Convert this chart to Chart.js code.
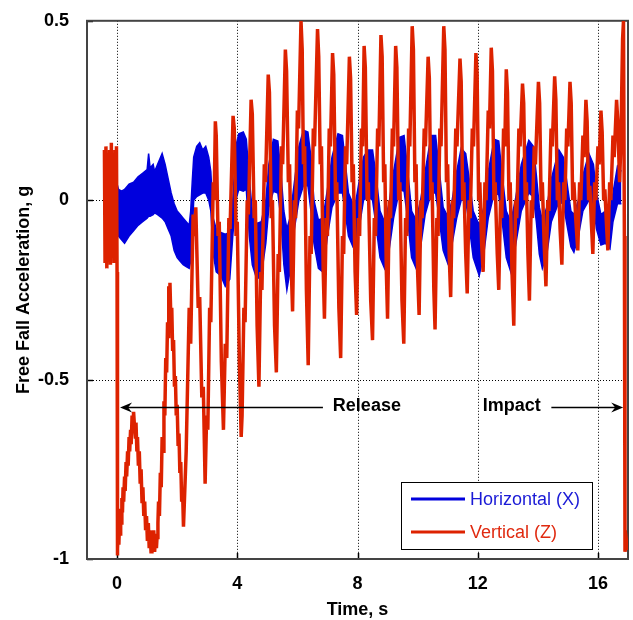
<!DOCTYPE html>
<html>
<head>
<meta charset="utf-8">
<script src="https://cdn.jsdelivr.net/npm/chart.js@4.4.1/dist/chart.umd.min.js"></script>
<style>
  html, body { margin: 0; padding: 0; background: #fff; }
</style>
</head>
<body>
<canvas id="fallChart" width="633" height="620"></canvas>
<script>
// Vertical (Z) trace: time in s, acceleration in g
const redTime = [
  -0.42, -0.40, -0.37, -0.34, -0.31, -0.28, -0.25, -0.22, -0.19, -0.16, -0.13, -0.10, -0.07, -0.04, -0.02, 0.00, 0.01,
  0.02, 0.04, 0.06, 0.08, 0.10, 0.12, 0.14, 0.16, 0.18, 0.20, 0.22, 0.25, 0.27, 0.30, 0.32, 0.35, 0.37, 0.40, 0.42, 0.45, 0.47, 0.50, 0.53, 0.55, 0.58,
  0.61, 0.63, 0.66, 0.68, 0.71, 0.74, 0.77, 0.80, 0.83, 0.86, 0.89, 0.92, 0.95, 0.98, 1.01, 1.04, 1.07, 1.10, 1.13, 1.16, 1.19, 1.22, 1.25, 1.28, 1.31, 1.33,
  1.36, 1.38, 1.41, 1.44, 1.47, 1.50, 1.53, 1.56, 1.59, 1.62, 1.65, 1.68, 1.70, 1.72, 1.74, 1.76,
  1.79, 1.82, 1.85, 1.88, 1.91, 1.94, 1.97, 2.00, 2.03, 2.06, 2.09, 2.12, 2.15, 2.18, 2.21,
  2.30, 2.40, 2.45, 2.53, 2.58, 2.62,
  2.70, 2.75, 2.82, 2.87, 2.93,
  2.98, 3.02, 3.08, 3.12, 3.20, 3.23, 3.27, 3.30,
  3.36, 3.40, 3.47, 3.54,
  3.60, 3.65, 3.72, 3.76, 3.86, 3.90,
  3.96, 4.00, 4.07, 4.13, 4.16,
  4.22, 4.26, 4.33, 4.37, 4.46, 4.50, 4.56, 4.60, 4.66, 4.72,
  4.78, 4.82, 4.90, 4.94, 5.03, 5.07, 5.13, 5.17, 5.24, 5.30,
  5.36, 5.40, 5.47, 5.51, 5.60, 5.64, 5.70, 5.74, 5.80, 5.84,
  5.90, 5.94, 6.00, 6.04, 6.12, 6.16, 6.20, 6.24, 6.30, 6.36,
  6.42, 6.46, 6.53, 6.57, 6.67, 6.71, 6.76, 6.80, 6.86, 6.90,
  6.96, 7.00, 7.06, 7.10, 7.17, 7.21, 7.27, 7.31, 7.38, 7.44,
  7.50, 7.54, 7.60, 7.64, 7.73, 7.77, 7.82, 7.86, 7.92, 7.97,
  8.03, 8.07, 8.13, 8.17, 8.22, 8.26, 8.32, 8.36, 8.44, 8.50,
  8.56, 8.60, 8.67, 8.71, 8.78, 8.82, 8.87, 8.91, 8.96, 9.00,
  9.06, 9.10, 9.16, 9.20, 9.27, 9.31, 9.37, 9.41, 9.48, 9.54,
  9.60, 9.64, 9.70, 9.74, 9.82, 9.86, 9.91, 9.95, 10.00, 10.05,
  10.11, 10.15, 10.22, 10.26, 10.35, 10.39, 10.44, 10.48, 10.54, 10.58,
  10.64, 10.68, 10.74, 10.78, 10.87, 10.91, 10.96, 11.00, 11.05, 11.10,
  11.16, 11.20, 11.27, 11.31, 11.41, 11.45, 11.50, 11.54, 11.60, 11.65,
  11.71, 11.75, 11.82, 11.86, 11.94, 11.98, 12.03, 12.07, 12.13, 12.18,
  12.24, 12.28, 12.35, 12.39, 12.45, 12.49, 12.54, 12.58, 12.65, 12.70,
  12.76, 12.80, 12.86, 12.90, 12.95, 12.99, 13.04, 13.08, 13.14, 13.20,
  13.26, 13.30, 13.37, 13.41, 13.49, 13.53, 13.58, 13.62, 13.67, 13.72,
  13.78, 13.82, 13.88, 13.92, 14.02, 14.06, 14.11, 14.15, 14.21, 14.27,
  14.33, 14.37, 14.44, 14.48, 14.56, 14.60, 14.65, 14.69, 14.74, 14.80,
  14.86, 14.90, 14.96, 15.00, 15.07, 15.11, 15.16, 15.20, 15.26, 15.33,
  15.39, 15.43, 15.50, 15.54, 15.60, 15.64, 15.69, 15.73, 15.78, 15.83,
  15.89, 15.93, 16.00, 16.04, 16.10, 16.14, 16.19, 16.23, 16.28, 16.33,
  16.39, 16.43, 16.50, 16.54, 16.62, 16.66, 16.72, 16.76, 16.82, 16.85,
  16.88, 16.90, 16.95, 16.98, 17.00
]
const redAccel = [
  0.14, -0.17, 0.15, -0.19, 0.12, -0.16, 0.14, -0.18, 0.16, -0.15, 0.13, -0.17, 0.14, -0.16, 0.15, -0.20, -0.99,
  -0.97, -0.93, -0.96, -0.90, -0.93, -0.86, -0.90, -0.83, -0.87, -0.80, -0.84, -0.77, -0.81, -0.73, -0.77, -0.70, -0.74, -0.66, -0.70, -0.64, -0.68, -0.60, -0.64, -0.59, -0.63,
  -0.66, -0.62, -0.70, -0.66, -0.74, -0.70, -0.79, -0.75, -0.84, -0.80, -0.88, -0.84, -0.92, -0.88, -0.95, -0.90, -0.97, -0.92, -0.98, -0.93, -0.97, -0.92, -0.98, -0.93, -0.97, -0.94,
  -0.90, -0.84, -0.88, -0.76, -0.80, -0.66, -0.70, -0.56, -0.60, -0.44, -0.48, -0.34, -0.38, -0.24, -0.27, -0.23,
  -0.33, -0.30, -0.42, -0.39, -0.52, -0.49, -0.60, -0.57, -0.68, -0.65, -0.76, -0.73, -0.84, -0.81, -0.91,
  -0.70, -0.30, -0.40, -0.04, -0.10, -0.02,
  -0.30, -0.27, -0.55, -0.52, -0.79,
  -0.60, -0.64, -0.30, -0.34, 0.05, 0.00, 0.22, 0.18,
  -0.10, -0.06, -0.45, -0.64,
  -0.40, -0.44, -0.05, -0.08, 0.235, 0.20,
  -0.10, -0.06, -0.45, -0.66, -0.60,
  -0.30, -0.34, 0.00, -0.04, 0.28, 0.24, -0.05, 0.00, -0.35, -0.52,
  -0.20, -0.25, 0.10, 0.05, 0.35, 0.30, -0.05, 0.00, -0.35, -0.48,
  -0.15, -0.20, 0.15, 0.10, 0.42, 0.36, 0.05, 0.10, -0.20, -0.31,
  0.00, -0.05, 0.25, 0.20, 0.50, 0.42, 0.10, 0.15, -0.25, -0.46,
  -0.10, -0.15, 0.20, 0.15, 0.477, 0.40, 0.10, 0.15, -0.20, -0.33,
  -0.05, -0.10, 0.20, 0.15, 0.41, 0.35, 0.00, 0.05, -0.30, -0.44,
  -0.10, -0.15, 0.15, 0.10, 0.40, 0.34, 0.05, 0.10, -0.20, -0.32,
  -0.05, -0.10, 0.20, 0.15, 0.43, 0.37, 0.00, 0.05, -0.28, -0.39,
  -0.05, -0.10, 0.20, 0.15, 0.46, 0.40, 0.05, 0.10, -0.20, -0.33,
  0.00, -0.05, 0.20, 0.15, 0.43, 0.37, 0.00, 0.05, -0.28, -0.40,
  -0.05, -0.10, 0.20, 0.15, 0.485, 0.42, 0.05, 0.10, -0.20, -0.32,
  0.00, -0.05, 0.20, 0.15, 0.40, 0.34, 0.00, 0.05, -0.25, -0.36,
  -0.05, -0.10, 0.20, 0.15, 0.485, 0.42, 0.05, 0.10, -0.15, -0.27,
  0.00, -0.05, 0.20, 0.15, 0.395, 0.33, 0.00, 0.05, -0.15, -0.26,
  0.00, -0.05, 0.20, 0.15, 0.41, 0.35, 0.00, 0.05, -0.12, -0.20,
  0.05, 0.00, 0.25, 0.20, 0.425, 0.36, 0.00, 0.05, -0.15, -0.25,
  0.00, -0.05, 0.20, 0.15, 0.365, 0.30, 0.00, 0.05, -0.20, -0.35,
  0.00, -0.05, 0.20, 0.15, 0.325, 0.27, 0.00, 0.05, -0.15, -0.28,
  0.00, -0.05, 0.15, 0.10, 0.33, 0.27, 0.00, 0.05, -0.12, -0.24,
  0.00, -0.03, 0.20, 0.15, 0.345, 0.28, 0.00, 0.05, -0.08, -0.18,
  0.05, 0.00, 0.20, 0.15, 0.33, 0.27, 0.00, 0.05, -0.05, -0.14,
  0.05, 0.00, 0.18, 0.12, 0.28, 0.22, 0.00, 0.04, -0.06, -0.15,
  0.05, 0.00, 0.15, 0.10, 0.25, 0.19, 0.00, 0.03, -0.06, -0.14,
  0.05, 0.00, 0.18, 0.12, 0.28, 0.22, 0.05, 0.15, 0.45, 0.50,
  -0.10, -0.98, -0.95, -0.97, -0.97
]

// Horizontal (X) trace: read as the upper and lower edge of its noise band
const blueTime = [
  0.00, 0.05, 0.15, 0.25, 0.40, 0.55, 0.70, 0.85, 1.00, 1.05,
  1.10, 1.20, 1.25, 1.35, 1.50, 1.60, 1.70, 1.80, 1.90, 2.00,
  2.10, 2.20, 2.30, 2.40, 2.45, 2.50, 2.55, 2.65, 2.75, 2.85,
  2.95, 3.05, 3.12, 3.20, 3.30, 3.45, 3.60, 3.75, 3.85, 3.95,
  4.05, 4.20, 4.30, 4.40, 4.50, 4.65, 4.80, 4.95, 5.05, 5.20,
  5.35, 5.45, 5.55, 5.65, 5.75, 5.90, 6.05, 6.20, 6.35, 6.45,
  6.55, 6.70, 6.85, 7.00, 7.15, 7.35, 7.50, 7.60, 7.70, 7.85,
  7.95, 8.05, 8.20, 8.35, 8.50, 8.60, 8.75, 8.90, 9.05, 9.20,
  9.40, 9.55, 9.65, 9.80, 9.95, 10.10, 10.25, 10.45, 10.60, 10.70,
  10.85, 11.00, 11.15, 11.30, 11.45, 11.60, 11.70, 11.85, 12.05, 12.20,
  12.35, 12.55, 12.70, 12.80, 12.95, 13.10, 13.25, 13.45, 13.70, 13.85,
  13.95, 14.05, 14.15, 14.30, 14.45, 14.70, 14.85, 14.95, 15.10, 15.20,
  15.35, 15.50, 15.70, 15.85, 15.95, 16.10, 16.25, 16.40, 16.50, 16.65,
  16.78
]
const blueHigh = [
  0.045, 0.03, 0.025, 0.03, 0.045, 0.05, 0.065, 0.075, 0.085, 0.13,
  0.09, 0.10, 0.08, 0.10, 0.13, 0.10, 0.06, 0.02, -0.01, -0.03,
  -0.04, -0.05, -0.06, -0.07, -0.03, 0.05, 0.12, 0.15, 0.16, 0.14,
  0.15, 0.12, 0.08, -0.05, -0.08, -0.09, -0.095, -0.09, 0.00, 0.15,
  0.185, 0.19, 0.17, 0.06, -0.03, -0.065, -0.06, 0.00, 0.10, 0.17,
  0.165, 0.08, -0.03, -0.08, -0.05, 0.05, 0.15, 0.195, 0.19, 0.12,
  0.00, -0.055, -0.05, 0.03, 0.12, 0.185, 0.18, 0.10, 0.02, -0.01,
  0.00, 0.05, 0.12, 0.14, 0.14, 0.08, -0.03, -0.06, -0.01, 0.08,
  0.175, 0.18, 0.10, -0.03, -0.055, 0.00, 0.08, 0.18, 0.18, 0.10,
  -0.02, -0.045, 0.00, 0.08, 0.145, 0.13, 0.07, -0.03, -0.07, -0.02,
  0.08, 0.17, 0.165, 0.08, -0.03, -0.06, 0.00, 0.10, 0.167, 0.15,
  0.07, -0.02, -0.055, -0.02, 0.06, 0.14, 0.12, 0.06, -0.03, -0.04,
  0.00, 0.07, 0.13, 0.10, 0.02, -0.04, -0.03, -0.03, 0.02, 0.095,
  0.08
]
const blueLow = [
  -0.08, -0.10, -0.11, -0.12, -0.10, -0.085, -0.07, -0.06, -0.05, -0.045,
  -0.045, -0.04, -0.035, -0.04, -0.05, -0.06, -0.08, -0.10, -0.14, -0.16,
  -0.17, -0.18, -0.185, -0.19, -0.17, -0.10, 0.00, 0.01, 0.015, 0.02,
  0.02, 0.00, -0.03, -0.15, -0.20, -0.21, -0.24, -0.22, -0.10, 0.00,
  0.03, 0.025, 0.03, -0.10, -0.18, -0.22, -0.21, -0.12, -0.02, 0.025,
  0.02, -0.05, -0.18, -0.25, -0.20, -0.08, 0.00, 0.04, 0.04, -0.03,
  -0.12, -0.19, -0.20, -0.10, -0.02, 0.02, 0.02, -0.04, -0.10, -0.13,
  -0.12, -0.08, 0.00, 0.01, 0.00, -0.06, -0.16, -0.19, -0.14, -0.05,
  0.03, 0.025, -0.04, -0.16, -0.19, -0.13, -0.04, 0.02, 0.02, -0.04,
  -0.14, -0.175, -0.12, -0.05, 0.00, 0.00, -0.06, -0.16, -0.21, -0.15,
  -0.05, 0.02, 0.015, -0.05, -0.16, -0.20, -0.13, -0.03, 0.02, 0.01,
  -0.06, -0.15, -0.19, -0.15, -0.06, -0.005, -0.01, -0.06, -0.13, -0.145,
  -0.10, -0.03, 0.00, -0.01, -0.08, -0.125, -0.12, -0.135, -0.06, -0.01,
  -0.01
]

const xTicks = [0, 4, 8, 12, 16]
const yTicks = [-1, -0.5, 0, 0.5]
const xGrid = [0, 4, 8, 12, 16]
const yGrid = [0, -0.5]
const seriesNames = ["Horizontal (X)", "Vertical (Z)"]

const FONT = '"Liberation Sans", Arial, Helvetica, sans-serif'
const RED = "#dd2200"
const BLUE = "#0000dd"

function pts(xs, ys) {
  return xs.map((x, i) => ({ x: x, y: ys[i] }))
}

function arrowHead(ctx, x, y, dir) {
  // barbed head, dir = -1 points left, 1 points right
  ctx.beginPath()
  ctx.moveTo(x, y)
  ctx.lineTo(x - dir * 12, y - 5)
  ctx.lineTo(x - dir * 8, y)
  ctx.lineTo(x - dir * 12, y + 5)
  ctx.closePath()
  ctx.fill()
}

const decor = {
  id: "decor",
  beforeDatasetsDraw(chart) {
    const { ctx, chartArea: a, scales } = chart
    const x = scales.x, y = scales.y
    ctx.save()
    ctx.strokeStyle = "#000"
    ctx.lineWidth = 1
    ctx.setLineDash([1, 2])
    xGrid.forEach(v => {
      const px = Math.round(x.getPixelForValue(v)) + 0.5
      ctx.beginPath(); ctx.moveTo(px, a.top); ctx.lineTo(px, a.bottom); ctx.stroke()
    })
    yGrid.forEach(v => {
      const py = Math.round(y.getPixelForValue(v)) + 0.5
      ctx.beginPath(); ctx.moveTo(a.left, py); ctx.lineTo(a.right, py); ctx.stroke()
    })
    ctx.setLineDash([])
    // short inside ticks
    ctx.lineWidth = 1.5
    xTicks.forEach(v => {
      const px = Math.round(x.getPixelForValue(v)) + 0.5
      ctx.beginPath(); ctx.moveTo(px, a.bottom); ctx.lineTo(px, a.bottom - 6); ctx.stroke()
    })
    yTicks.forEach(v => {
      const py = Math.round(y.getPixelForValue(v)) + 0.5
      ctx.beginPath(); ctx.moveTo(a.left, py); ctx.lineTo(a.left + 6, py); ctx.stroke()
    })
    // frame
    ctx.strokeStyle = "#444"
    ctx.lineWidth = 2
    ctx.strokeRect(a.left, a.top, a.right - a.left, a.bottom - a.top)
    ctx.restore()
  },
  afterDatasetsDraw(chart) {
    const { ctx, chartArea: a, scales } = chart
    const x = scales.x, y = scales.y
    ctx.save()

    // Release / Impact arrows
    const ay = Math.round(y.getPixelForValue(-0.575)) + 0.5
    ctx.strokeStyle = "#000"
    ctx.fillStyle = "#000"
    ctx.lineWidth = 1.5
    const relTip = x.getPixelForValue(0.1)
    ctx.beginPath(); ctx.moveTo(relTip + 6, ay); ctx.lineTo(x.getPixelForValue(6.85), ay); ctx.stroke()
    arrowHead(ctx, relTip, ay, -1)
    const impTip = x.getPixelForValue(16.84)
    ctx.beginPath(); ctx.moveTo(x.getPixelForValue(14.45), ay); ctx.lineTo(impTip - 6, ay); ctx.stroke()
    arrowHead(ctx, impTip, ay, 1)
    ctx.font = "bold 18px " + FONT
    ctx.textBaseline = "alphabetic"
    ctx.textAlign = "left"
    ctx.fillText("Release", x.getPixelForValue(7.18), ay + 3)
    ctx.fillText("Impact", x.getPixelForValue(12.17), ay + 3)

    // legend box
    const lx = 401, ly = 482, lw = 191, lh = 67
    ctx.fillStyle = "#fff"
    ctx.fillRect(lx, ly, lw, lh)
    ctx.strokeStyle = "#000"
    ctx.lineWidth = 1
    ctx.strokeRect(lx + 0.5, ly + 0.5, lw, lh)
    const rows = [[BLUE, "#1a1ad6", ly + 17], [RED, "#e02a10", ly + 50]]
    ctx.font = "18px " + FONT
    rows.forEach((r, i) => {
      ctx.strokeStyle = r[0]
      ctx.lineWidth = 3
      ctx.beginPath(); ctx.moveTo(lx + 10, r[2]); ctx.lineTo(lx + 64, r[2]); ctx.stroke()
      ctx.fillStyle = r[1]
      ctx.fillText(seriesNames[i], lx + 69, r[2] + 6)
    })

    // axis titles
    ctx.fillStyle = "#000"
    ctx.font = "bold 18px " + FONT
    ctx.textAlign = "center"
    ctx.textBaseline = "middle"
    ctx.fillText("Time, s", (a.left + a.right) / 2, 610)
    ctx.translate(24, (a.top + a.bottom) / 2)
    ctx.rotate(-Math.PI / 2)
    ctx.fillText("Free Fall Acceleration, g", 0, 0)
    ctx.restore()
  }
}

new Chart(document.getElementById("fallChart"), {
  type: "line",
  data: {
    datasets: [
      {
        label: seriesNames[1],
        data: pts(redTime, redAccel),
        borderColor: RED,
        borderWidth: 3.5,
        pointRadius: 0,
        tension: 0,
        fill: false,
        order: 0
      },
      {
        label: seriesNames[0],
        data: pts(blueTime, blueHigh),
        borderColor: BLUE,
        backgroundColor: BLUE,
        borderWidth: 1.5,
        pointRadius: 0,
        tension: 0,
        fill: "+1",
        order: 1
      },
      {
        label: seriesNames[0] + " low",
        data: pts(blueTime, blueLow),
        borderColor: BLUE,
        borderWidth: 1.5,
        pointRadius: 0,
        tension: 0,
        fill: false,
        order: 2
      }
    ]
  },
  options: {
    responsive: false,
    animation: false,
    events: [],
    layout: { padding: { left: 0, top: 16, right: 5, bottom: 0 } },
    plugins: {
      legend: { display: false },
      tooltip: { enabled: false }
    },
    scales: {
      x: {
        type: "linear",
        min: -1,
        max: 17,
        grid: { display: false },
        border: { display: false },
        afterBuildTicks: s => { s.ticks = xTicks.map(v => ({ value: v })) },
        afterFit: s => { s.height = 61 },
        ticks: { color: "#000", padding: 6, font: { family: FONT, size: 18, weight: "bold" } }
      },
      y: {
        type: "linear",
        min: -1,
        max: 0.5,
        grid: { display: false },
        border: { display: false },
        afterBuildTicks: s => { s.ticks = yTicks.map(v => ({ value: v })) },
        afterFit: s => { s.width = 87 },
        ticks: {
          color: "#000",
          padding: 10,
          font: { family: FONT, size: 18, weight: "bold" },
          callback: v => String(v)
        }
      }
    }
  },
  plugins: [decor]
})
</script>
</body>
</html>
